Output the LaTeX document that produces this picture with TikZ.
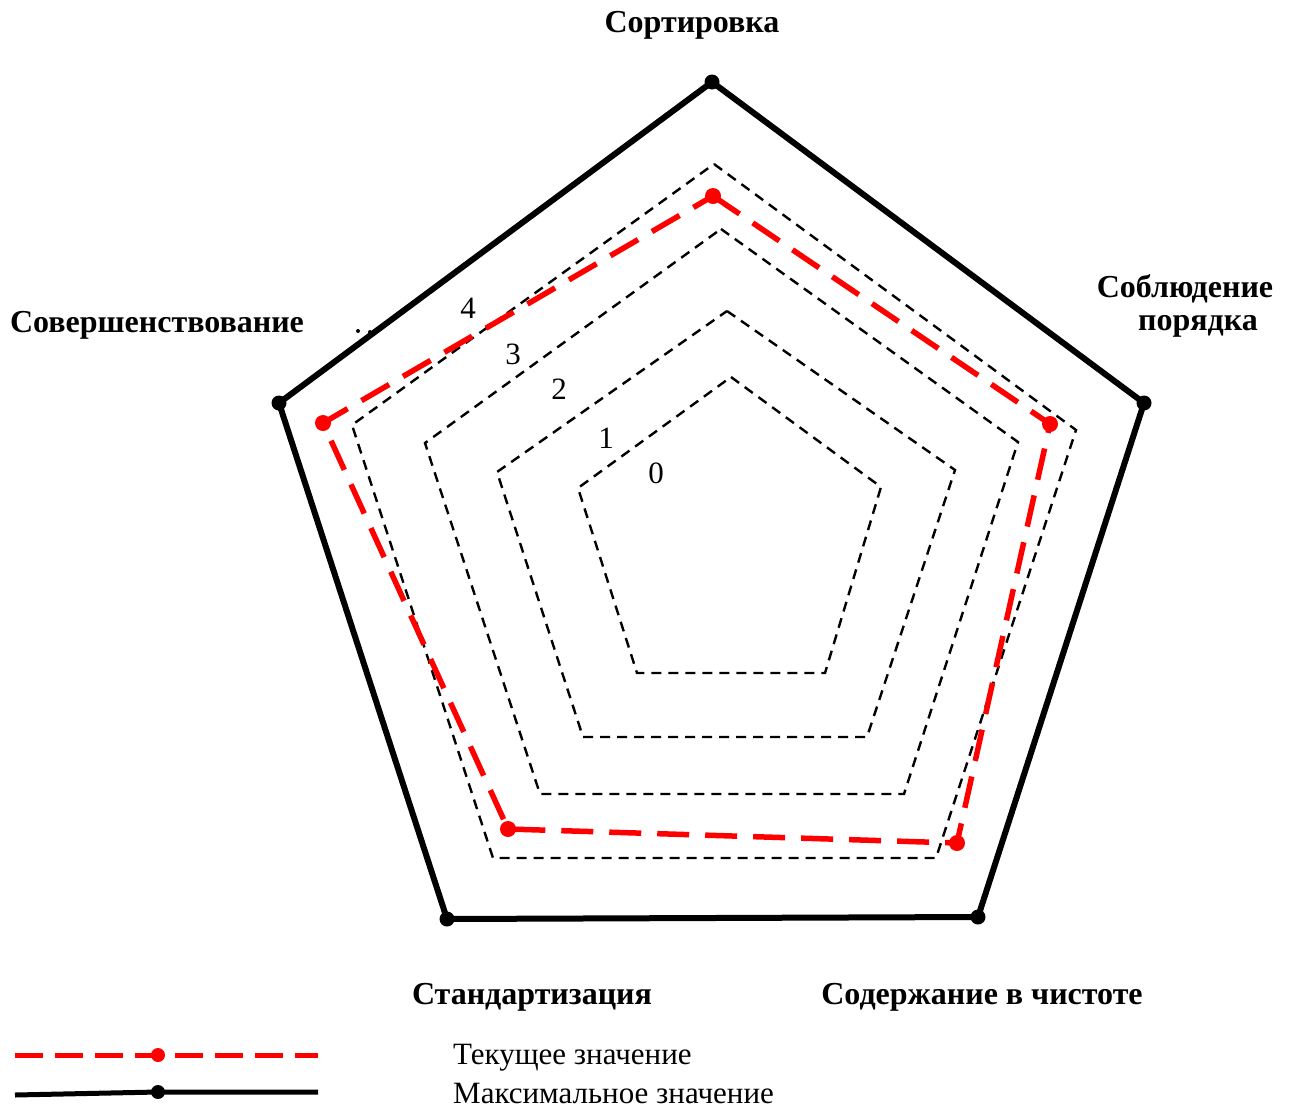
\documentclass[tikz,border=0pt]{standalone}
\usepackage{fontspec}
\setmainfont{Liberation Serif}
\begin{document}
\begin{tikzpicture}[x=1pt,y=-1pt,
  outer/.style={line width=6pt,line join=miter},
  grid/.style={line width=2.4pt,dash pattern=on 10pt off 7pt},
  cur/.style={line width=5.5pt,red,dash pattern=on 32pt off 16pt},
  bdot/.style={circle,fill=black,inner sep=0pt,minimum size=15pt},
  rdot/.style={circle,fill=red,inner sep=0pt,minimum size=16pt},
  axlab/.style={font=\fontsize{32}{34}\selectfont\bfseries,inner sep=0pt},
  numlab/.style={font=\fontsize{31}{33}\selectfont,inner sep=0pt},
  leglab/.style={font=\fontsize{31}{33}\selectfont,inner sep=0pt,anchor=west}]
\useasboundingbox (0,0) rectangle (1291,1109);
% outer (max) pentagon
\coordinate (o1) at (712,82);
\coordinate (o2) at (1144,403);
\coordinate (o3) at (978,917);
\coordinate (o4) at (447,919);
\coordinate (o5) at (279,403);
% level grids
\coordinate (a1) at (714,164); \coordinate (a2) at (1076,430); \coordinate (a3) at (936,858); \coordinate (a4) at (493,858); \coordinate (a5) at (352,425);
\coordinate (b1) at (721,229); \coordinate (b2) at (1018,442); \coordinate (b3) at (904,794); \coordinate (b4) at (540,794); \coordinate (b5) at (425,443);
\coordinate (c1) at (727,311); \coordinate (c2) at (955,470); \coordinate (c3) at (867,737); \coordinate (c4) at (583,737); \coordinate (c5) at (497,472);
\coordinate (d1) at (731,377); \coordinate (d2) at (881,487); \coordinate (d3) at (825,673); \coordinate (d4) at (637,673); \coordinate (d5) at (578,488);
% current values
\coordinate (r1) at (713,196); \coordinate (r2) at (1050,424); \coordinate (r3) at (957,843); \coordinate (r4) at (508,829); \coordinate (r5) at (323,423);

\draw[grid] (a1) -- (a2) -- (a3) -- (a4) -- (a5) -- cycle;
\draw[grid] (b1) -- (b2) -- (b3) -- (b4) -- (b5) -- cycle;
\draw[grid] (c1) -- (c2) -- (c3) -- (c4) -- (c5) -- cycle;
\draw[grid] (d1) -- (d2) -- (d3) -- (d4) -- (d5) -- cycle;

\draw[outer] (o1) -- (o2) -- (o3) -- (o4) -- (o5) -- cycle;
\foreach \p in {o1,o2,o3,o4,o5} \node[bdot] at (\p) {};

\draw[cur] (r1) -- (r2) -- (r3) -- (r4) -- (r5) -- cycle;
\foreach \p in {r1,r2,r3,r4,r5} \node[rdot] at (\p) {};

% scale numbers
\node[numlab] (n4) at (468,308) {4};
\node[numlab] (n3) at (513,354) {3};
\node[numlab] (n2) at (559,389) {2};
\node[numlab] (n1) at (606,438) {1};
\node[numlab] (n0) at (656,473) {0};
\fill (358,331) circle (2pt) (370,332) circle (2pt);

% axis labels
\node[axlab] (l1) at (692,25) {Сортировка};
\node[axlab] (l2a) at (1185,289) {Соблюдение};
\node[axlab] (l2b) at (1198,326) {порядка};
\node[axlab] (l3) at (982,997) {Содержание в чистоте};
\node[axlab] (l4) at (532,997) {Стандартизация};
\node[axlab] (l5) at (157,325) {Совершенствование};

% legend
\coordinate (la) at (15,1055); \coordinate (lb) at (318,1055);
\draw[line width=5pt,red,dash pattern=on 28pt off 12pt] (la) -- (lb);
\node[rdot,minimum size=14pt] (ld1) at (158,1055) {};
\coordinate (ma) at (15,1095); \coordinate (mb) at (318,1092);
\draw[line width=5pt] (ma) -- (158,1092) -- (mb);
\node[bdot,minimum size=14pt] (ld2) at (158,1092) {};
\node[leglab] (t1) at (453,1058) {Текущее значение};
\node[leglab] (t2) at (453,1093) {Максимальное значение};
\end{tikzpicture}
\end{document}
